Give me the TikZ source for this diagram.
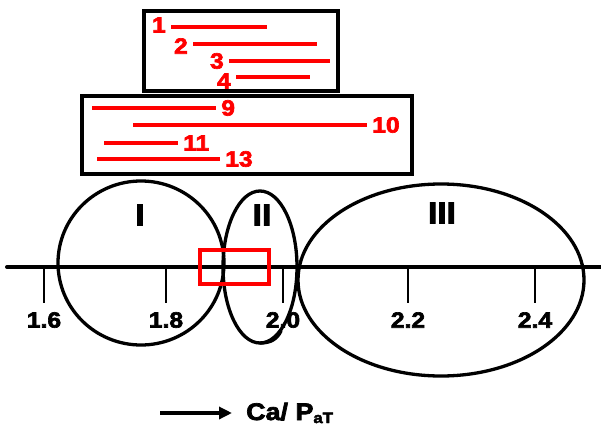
\documentclass[tikz,border=0pt]{standalone}
\usepackage{fontspec}
\setmainfont{Liberation Sans}[BoldFeatures={FakeBold=3, FakeStretch=1.12}]
\usetikzlibrary{arrows.meta,positioning}
\tikzset{
  rangebar/.style={red, line width=4.5pt},
  rlab/.style={red, font=\bfseries\fontsize{22}{22}\selectfont, inner sep=3pt},
  boxframe/.style={draw, line width=3.3pt},
  zone/.style={line width=3.3pt},
  zlab/.style={font=\bfseries\fontsize{30}{30}\selectfont},
  tlab/.style={font=\bfseries\fontsize{22}{22}\selectfont},
}
\begin{document}
\begin{tikzpicture}[x=1pt,y=-1pt]
  \useasboundingbox (0,0) rectangle (601,425);
  % boxes with the ranges
  \draw[boxframe] (144,11) rectangle (338,91);
  \draw[boxframe] (82,96) rectangle (412,174);
  \draw[rangebar] (171,27) -- (267,27) node[rlab, pos=0, anchor=east, yshift=2pt] (r1) {1};
  \draw[rangebar] (193,44) -- (317,44) node[rlab, pos=0, anchor=east, yshift=-2pt] (r2) {2};
  \draw[rangebar] (229,61) -- (330,61) node[rlab, pos=0, anchor=east] (r3) {3};
  \draw[rangebar] (236,77) -- (310,77) node[rlab, pos=0, anchor=east, yshift=-4pt] (r4) {4};
  \draw[rangebar] (92,108) -- (216,108) node[rlab, anchor=west] (r9) {9};
  \draw[rangebar] (133,125) -- (367,125) node[rlab, anchor=west] (r10) {10};
  \draw[rangebar] (104,143) -- (178,143) node[rlab, anchor=west] (r11) {11};
  \draw[rangebar] (97,159) -- (220,159) node[rlab, anchor=west] (r13) {13};
  % zones
  \draw[zone] (141,263) ellipse [x radius=83pt, y radius=82pt];
  \draw[zone] (260,267) ellipse [x radius=37pt, y radius=76pt];
  \draw[zone, line cap=round] (260,343) .. controls (271,343) and (277,339) .. (281,331);
  \draw[zone] (441,280) ellipse [x radius=143pt, y radius=96pt];
  \node[zlab] (zI) at (140,215) {I};
  \node[zlab] (zII) at (262,215) {II};
  \node[zlab] (zIII) at (442,213) {III};
  % axis
  \draw[line width=4pt, line cap=round] (7,267) -- (601,267);
  \foreach \x/\v in {44/1.6, 166/1.8, 283/2.0, 408/2.2, 535/2.4} {
    \draw[line width=1.5pt] (\x,267) -- (\x,303);
    \node[tlab] at (\x,320) {\v};
  }
  \draw[red, line width=3.3pt] (200,250) rectangle (269,284);
  % direction
  \node[font=\bfseries\fontsize{24}{24}\selectfont, anchor=base west, inner sep=0pt] (ca) at (246,420)
    {Ca/ P\raisebox{-3pt}{\fontsize{15}{15}\selectfont aT}};
  \coordinate (a0) at (160,413);
  \draw[line width=3.5pt, -{Triangle[length=13pt,width=12pt]}] (a0) -- ([xshift=-14pt]a0 -| ca.west);
\end{tikzpicture}
\end{document}
